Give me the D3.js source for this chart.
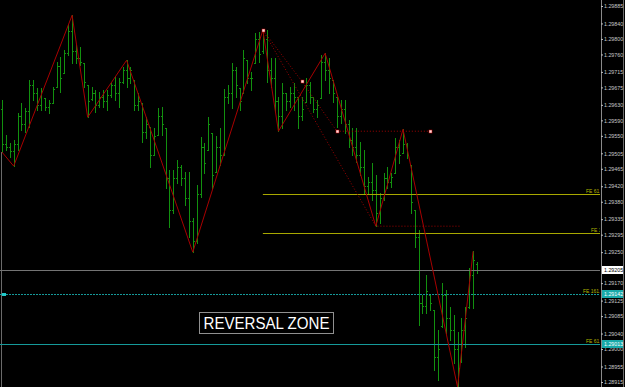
<!DOCTYPE html>
<html><head><meta charset="utf-8">
<script src="https://cdn.jsdelivr.net/npm/d3@7"></script>
<style>html,body{margin:0;padding:0;background:#000;overflow:hidden}</style>
</head><body><svg id="c" width="625" height="387"></svg>
<script>
// ---- data (prices) ----
const highs=[
1.29642,1.29552,1.29531,1.29539,1.29608,1.29634,1.29621,1.29694,1.29694,1.29673,
1.29673,1.29647,1.29642,1.29676,1.29740,1.29753,1.29771,1.29835,1.29861,1.29784,
1.29779,1.29737,1.29681,1.29676,1.29668,1.29663,1.29668,1.29668,1.29686,1.29701,
1.29699,1.29727,1.29745,1.29727,1.29694,1.29660,1.29634,1.29598,1.29572,1.29570,
1.29621,1.29624,1.29570,1.29461,1.29461,1.29487,1.29474,1.29456,1.29456,1.29338,
1.29423,1.29547,1.29531,1.29598,1.29557,1.29549,1.29570,1.29670,1.29681,1.29737,
1.29727,1.29673,1.29771,1.29745,1.29714,1.29815,1.29817,1.29823,1.29823,1.29750,
1.29750,1.29650,1.29686,1.29660,1.29676,1.29686,1.29650,1.29650,1.29699,1.29688,
1.29650,1.29642,1.29758,1.29763,1.29750,1.29694,1.29650,1.29642,1.29642,1.29590,
1.29570,1.29570,1.29534,1.29513,1.29443,1.29479,1.29448,1.29402,1.29454,1.29469,
1.29454,1.29544,1.29539,1.29567,1.29531,1.29474,1.29358,1.29307,1.29139,1.29190,
1.29139,1.29100,1.29049,1.29170,1.29152,1.29108,1.29087,1.29043,1.29080,1.29108,
1.29209,1.29252,1.29224];
const lows=[
1.29508,1.29513,1.29495,1.29472,1.29513,1.29565,1.29559,1.29572,1.29642,1.29616,
1.29616,1.29616,1.29608,1.29634,1.29676,1.29663,1.29712,1.29758,1.29737,1.29737,
1.29732,1.29676,1.29598,1.29642,1.29611,1.29624,1.29624,1.29616,1.29650,1.29642,
1.29624,1.29686,1.29676,1.29686,1.29616,1.29616,1.29534,1.29544,1.29469,1.29500,
1.29552,1.29552,1.29415,1.29314,1.29350,1.29428,1.29423,1.29371,1.29289,1.29250,
1.29273,1.29392,1.29454,1.29513,1.29415,1.29456,1.29474,1.29500,1.29634,1.29621,
1.29650,1.29616,1.29660,1.29686,1.29668,1.29737,1.29740,1.29763,1.29688,1.29676,
1.29611,1.29562,1.29570,1.29616,1.29624,1.29616,1.29570,1.29590,1.29637,1.29634,
1.29611,1.29598,1.29647,1.29694,1.29660,1.29637,1.29572,1.29583,1.29557,1.29521,
1.29500,1.29482,1.29448,1.29402,1.29402,1.29384,1.29317,1.29325,1.29384,1.29415,
1.29418,1.29454,1.29479,1.29505,1.29492,1.29350,1.29263,1.29061,1.29092,1.29092,
1.29100,1.28945,1.28920,1.29056,1.29041,1.29023,1.28963,1.28902,1.28966,1.29005,
1.29105,1.29105,1.29196];
const opens=[
1.29620,1.29530,1.29520,1.29510,1.29530,1.29600,1.29580,1.29615,1.29680,1.29660,
1.29630,1.29647,1.29625,1.29635,1.29676,1.29730,1.29712,1.29765,1.29820,1.29770,
1.29750,1.29737,1.29681,1.29645,1.29660,1.29630,1.29650,1.29640,1.29655,1.29680,
1.29660,1.29690,1.29720,1.29700,1.29694,1.29630,1.29634,1.29560,1.29572,1.29500,
1.29552,1.29600,1.29570,1.29440,1.29360,1.29440,1.29470,1.29440,1.29390,1.29330,
1.29280,1.29400,1.29520,1.29513,1.29557,1.29456,1.29520,1.29500,1.29650,1.29660,
1.29720,1.29673,1.29660,1.29745,1.29700,1.29737,1.29800,1.29770,1.29800,1.29720,
1.29700,1.29640,1.29600,1.29660,1.29640,1.29660,1.29650,1.29600,1.29637,1.29680,
1.29650,1.29620,1.29647,1.29740,1.29720,1.29694,1.29650,1.29600,1.29620,1.29580,
1.29540,1.29520,1.29500,1.29470,1.29420,1.29430,1.29410,1.29350,1.29390,1.29440,
1.29430,1.29454,1.29520,1.29505,1.29530,1.29474,1.29358,1.29290,1.29120,1.29110,
1.29139,1.29100,1.28980,1.29060,1.29140,1.29080,1.29050,1.29000,1.28970,1.29050,
1.29108,1.29190,1.29220];
const closes=[
1.29530,1.29520,1.29510,1.29530,1.29600,1.29580,1.29615,1.29680,1.29660,1.29630,
1.29665,1.29625,1.29635,1.29670,1.29730,1.29700,1.29765,1.29820,1.29770,1.29750,
1.29740,1.29690,1.29640,1.29660,1.29630,1.29650,1.29640,1.29655,1.29680,1.29660,
1.29690,1.29720,1.29700,1.29720,1.29630,1.29640,1.29560,1.29580,1.29500,1.29550,
1.29600,1.29580,1.29440,1.29360,1.29440,1.29470,1.29440,1.29390,1.29330,1.29280,
1.29400,1.29520,1.29480,1.29580,1.29450,1.29520,1.29500,1.29650,1.29660,1.29720,
1.29680,1.29640,1.29750,1.29700,1.29700,1.29800,1.29760,1.29800,1.29720,1.29700,
1.29640,1.29600,1.29660,1.29640,1.29660,1.29650,1.29600,1.29620,1.29680,1.29650,
1.29620,1.29630,1.29740,1.29720,1.29700,1.29660,1.29600,1.29620,1.29580,1.29540,
1.29520,1.29500,1.29470,1.29420,1.29430,1.29410,1.29350,1.29390,1.29440,1.29430,
1.29445,1.29520,1.29500,1.29530,1.29500,1.29380,1.29290,1.29120,1.29110,1.29150,
1.29120,1.28980,1.29000,1.29140,1.29080,1.29050,1.29000,1.28950,1.29050,1.29080,
1.29190,1.29230,1.29205];
const zigIdx=[0,3,18,22,32,49,67,71,83,96,103,117,121];
const zigPrice=[1.29508,1.29472,1.29861,1.29598,1.29745,1.29250,1.29823,1.29562,1.29763,1.29317,1.29567,1.28902,1.29252];
const patIdx=[67,77,86,110];
const patPrice=[1.29823,1.29691,1.29562,1.29562];
const projIdx=[67,96,118];
const projPrice=[1.29823,1.29317,1.29317];
const tickValues=[1.29885,1.29840,1.29800,1.29760,1.29715,1.29675,1.29630,1.29590,1.29550,1.29505,1.29465,1.29420,1.29380,1.29335,1.29295,1.29250,1.29170,1.29125,1.29085,1.29040,1.29000,1.28955,1.28915];
const feYellowPrices=[1.29399,1.29299];
const feYellowLabels=["FE 61.8","FE 100"];
const feCyanPrices=[1.29142,1.29013];
const feCyanLabels=["FE 161.8","FE 61.8"];
const bidPrice=1.29205;
const zoneLabel="REVERSAL ZONE";

// ---- drawing ----
const svg=d3.select("#c");
const W=625,H=387,plotR=600;
svg.append("rect").attr("width",W).attr("height",H).attr("fill","#000");
const N=highs.length;
const x=d3.scaleLinear().domain([0,N-1]).range([2,477]);
const y=d3.scaleLinear().domain([1.28915,1.29885]).range([382,6]);
const px=v=>Math.round(x(v))+0.5, py=v=>Math.round(y(v))+0.5;

svg.append("defs").append("clipPath").attr("id","plot").append("rect").attr("x",0).attr("y",0).attr("width",plotR).attr("height",H);
const g=svg.append("g").attr("clip-path","url(#plot)");

// left border
g.append("line").attr("x1",1.5).attr("x2",1.5).attr("y1",152).attr("y2",H).attr("stroke","#6a6a6a");

// bars
const bars=g.append("g").attr("stroke","#12900f").attr("stroke-width",1);
d3.range(N).forEach(i=>{
  const cx=px(i);
  bars.append("line").attr("x1",cx).attr("x2",cx).attr("y1",py(highs[i])-0.5).attr("y2",py(lows[i])+0.5);
  bars.append("line").attr("x1",cx-1.5).attr("x2",cx).attr("y1",py(opens[i])).attr("y2",py(opens[i]));
  bars.append("line").attr("x1",cx).attr("x2",cx+1.5).attr("y1",py(closes[i])).attr("y2",py(closes[i]));
});

// horizontal levels
feYellowPrices.forEach(p=>{
  g.append("line").attr("x1",x(67)).attr("x2",plotR).attr("y1",py(p)).attr("y2",py(p)).attr("stroke","#a8a800");
});
g.append("line").attr("x1",0).attr("x2",plotR).attr("y1",py(bidPrice)).attr("y2",py(bidPrice)).attr("stroke","#747474");
feCyanPrices.forEach((p,k)=>{
  g.append("line").attr("x1",0).attr("x2",plotR).attr("y1",py(p)).attr("y2",py(p)).attr("stroke","#159a9a")
   .attr("stroke-dasharray",k===0?"2,1":null);
});
const labelX=[586,591,583,586];
const allLab=feYellowLabels.concat(feCyanLabels), allP=feYellowPrices.concat(feCyanPrices);
allLab.forEach((t,k)=>{
  g.append("text").attr("x",labelX[k]).attr("y",py(allP[k])-1.5).text(t)
   .attr("fill","#b4b400").attr("font-family","Liberation Sans, Arial, sans-serif").attr("font-size","5px");
});

// dotted pattern lines
const dot=d3.line().x(d=>x(d[0])).y(d=>y(d[1]));
g.append("path").attr("d",dot(patIdx.slice(0,3).map((v,i)=>[v,patPrice[i]]))).attr("fill","none").attr("stroke","#a00000").attr("stroke-dasharray","1,2");
g.append("path").attr("d",dot([[patIdx[2],patPrice[2]],[patIdx[3],patPrice[3]]])).attr("fill","none").attr("stroke","#a00000").attr("stroke-dasharray","1,2");
g.append("path").attr("d",dot(projIdx.map((v,i)=>[v,projPrice[i]]))).attr("fill","none").attr("stroke","#a00000").attr("stroke-dasharray","1,2");

// zigzag
g.append("path").attr("d",d3.line().x(d=>x(d[0])).y(d=>y(d[1]))(zigIdx.map((v,i)=>[v,zigPrice[i]])))
 .attr("fill","none").attr("stroke","#a80000").attr("stroke-width",1);

// markers
patIdx.forEach((v,i)=>{
  g.append("rect").attr("x",Math.round(x(v))-1).attr("y",Math.round(y(patPrice[i]))-1).attr("width",3).attr("height",3)
   .attr("fill","#ffd8d8").attr("stroke","#c00000").attr("stroke-width",0.5);
});

// left cyan marker
g.append("rect").attr("x",2).attr("y",py(feCyanPrices[0])-1.5).attr("width",4).attr("height",3).attr("fill","#20c8c8");

// reversal zone label
g.append("rect").attr("x",199.5).attr("y",312.5).attr("width",134).attr("height",21).attr("fill","#000").attr("stroke","#909090");
g.append("text").attr("x",266.5).attr("y",329).attr("text-anchor","middle").text(zoneLabel)
 .attr("fill","#ffffff").attr("font-family","Liberation Sans, Arial, sans-serif").attr("font-size","16px")
 .attr("textLength",126).attr("lengthAdjust","spacingAndGlyphs");

// price axis
svg.append("line").attr("x1",601.5).attr("x2",601.5).attr("y1",0).attr("y2",H).attr("stroke","#8a8a8a");
svg.append("line").attr("x1",623.5).attr("x2",623.5).attr("y1",0).attr("y2",H).attr("stroke","#6a6a6a");
const ax=svg.append("g").attr("transform","translate(601,0)")
  .call(d3.axisRight(y).tickValues(tickValues).tickFormat(d3.format(".5f")).tickSize(2).tickPadding(1));
ax.select(".domain").remove();
ax.selectAll("line").attr("stroke","#c0c0c0");
ax.selectAll("text").attr("fill","#c8c8c8").attr("font-family","Liberation Sans, Arial, sans-serif").attr("font-size","5.3px");

function tag(p,bg,fg){
  const yy=Math.round(y(p));
  svg.append("rect").attr("x",602).attr("y",yy-4).attr("width",21).attr("height",8).attr("fill",bg);
  svg.append("text").attr("x",604).attr("y",yy+2).text(d3.format(".5f")(p)).attr("fill",fg)
   .attr("font-family","Liberation Sans, Arial, sans-serif").attr("font-size","5.3px");
}
tag(bidPrice,"#ffffff","#000000");
feCyanPrices.forEach(p=>tag(p,"#19aaaa","#ffffff"));
</script></body></html>
